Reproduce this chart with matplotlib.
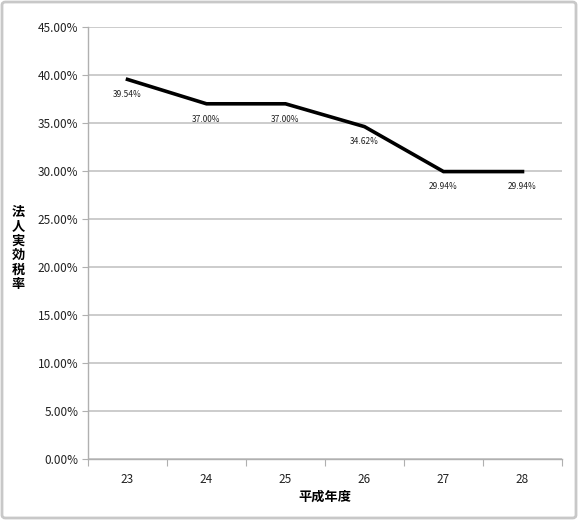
import matplotlib
matplotlib.use("Agg")
import matplotlib.pyplot as plt
from matplotlib.patches import FancyBboxPatch
from matplotlib.ticker import FixedLocator, NullFormatter

plt.rcParams['font.family'] = ['Noto Sans CJK JP', 'DejaVu Sans']

years = ['23', '24', '25', '26', '27', '28']
rates = [39.54, 37.00, 37.00, 34.62, 29.94, 29.94]
yticks = [0, 5, 10, 15, 20, 25, 30, 35, 40, 45]

W, H = 578, 520
fig = plt.figure(figsize=(W/100, H/100), dpi=100)
ax = fig.add_axes([88/W, 1-459/H, (562-88)/W, (459-27)/H])

x = list(range(len(years)))
ax.plot(x, rates, color='black', lw=2.6, solid_joinstyle='miter')
for xi, v in zip(x, rates):
    ax.annotate(f'{v:.2f}%', (xi, v), xytext=(0, -11), textcoords='offset points',
                ha='center', va='center', fontsize=6, color='#222222')

ax.set_xlim(-0.5, len(years)-0.5)
ax.set_ylim(0, 45)
ax.set_yticks(yticks)
ax.set_yticklabels([f'{t:.2f}%' for t in yticks], fontsize=8.5, color='#222222')
ax.yaxis.grid(True, color='#c4c4c4', lw=1.2)
ax.set_axisbelow(True)

ax.xaxis.set_major_locator(FixedLocator([i - 0.5 for i in range(len(years)+1)]))
ax.xaxis.set_major_formatter(NullFormatter())
ax.xaxis.set_minor_locator(FixedLocator(x))
ax.set_xticklabels(years, minor=True, fontsize=8.5, color='#222222')
ax.tick_params(axis='x', which='major', length=5, color='#b0b0b0', direction='out')
ax.tick_params(axis='x', which='minor', length=0, pad=10)
ax.tick_params(axis='y', length=4, color='#b0b0b0', pad=3)

for s in ['top', 'right']:
    ax.spines[s].set_visible(False)
for s in ['left', 'bottom']:
    ax.spines[s].set_color('#b0b0b0')
    ax.spines[s].set_linewidth(1.0)

ax.set_xlabel('平成年度', fontsize=9.5, fontweight='bold', labelpad=3)
fig.text(18/W, 1-248/H, '\n'.join('法人実効税率'), fontsize=9.5, fontweight='bold',
         ha='center', va='center', linespacing=1.05)

border = FancyBboxPatch((2/W, 2/H), 1-4/W, 1-4/H, boxstyle='round,pad=0,rounding_size=0.006',
                        transform=fig.transFigure, fill=False, edgecolor='#c8c8c8', lw=2)
fig.patches.append(border)

fig.savefig('out.png', dpi=100)
